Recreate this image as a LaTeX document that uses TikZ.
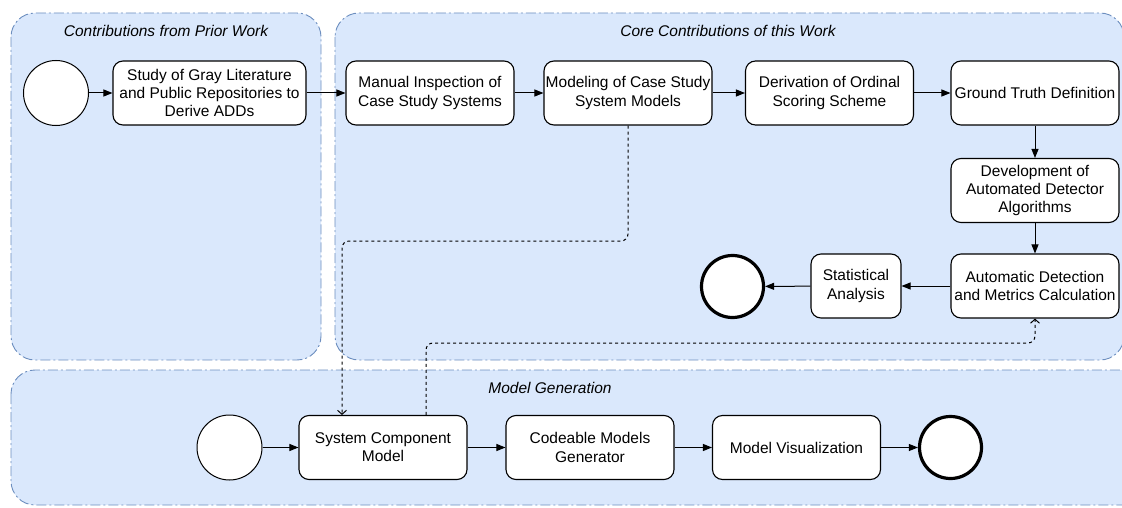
\documentclass[tikz,border=0pt]{standalone}
\usepackage{fontspec}
\setmainfont{Liberation Sans}
\usetikzlibrary{arrows.meta}
\definecolor{grpfill}{HTML}{DAE8FC}
\definecolor{grpline}{HTML}{6C8EBF}
\tikzset{
  grp/.style={draw=grpline, fill=grpfill, line width=0.9pt,
    dash pattern=on 10pt off 3pt on 2pt off 3pt, rounded corners=24pt},
  grptitle/.style={font=\fontsize{15.5}{18}\selectfont\itshape, inner sep=0pt},
  task/.style={draw=black, fill=white, line width=1.1pt, rounded corners=10pt,
    minimum width=168pt, minimum height=64pt, align=center, inner sep=0pt,
    font=\fontsize{15.5}{18.2}\selectfont},
  startev/.style={circle, draw=black, fill=white, line width=1pt,
    minimum size=65pt, inner sep=0pt},
  endev/.style={circle, draw=black, fill=white, line width=3.2pt,
    minimum size=62pt, inner sep=0pt},
  flow/.style={-{Triangle[length=9pt,width=7pt]}, line width=1pt},
  assoc/.style={-{Straight Barb[length=4pt,width=9pt]}, line width=1pt,
    dash pattern=on 3pt off 3pt, rounded corners=7pt},
}
\begin{document}
\begin{tikzpicture}[x=1pt, y=-1pt]
  \useasboundingbox (0,0) rectangle (1122,508);
  \clip (0,0) rectangle (1122,508);

  % lanes
  \draw[grp] (11,13) rectangle (321,360);
  \draw[grp] (335,13) rectangle (1124,360);
  \draw[grp] (11,370) rectangle (1160,505);
  \node[grptitle] (t1) at (166,31) {Contributions from Prior Work};
  \node[grptitle] (t2) at (728,31) {Core Contributions of this Work};
  \node[grptitle] (t3) at (550,388) {Model Generation};

  % prior work
  \node[startev] (s1) at (56,93) {};
  \node[task, minimum width=193pt] (study) at (209.5,93)
    {Study of Gray Literature\\and Public Repositories to\\Derive ADDs};

  % core contributions
  \node[task] (man) at (430,93) {Manual Inspection of\\Case Study Systems};
  \node[task] (mod) at (628,93) {Modeling of Case Study\\System Models};
  \node[task] (der) at (829.5,93) {Derivation of Ordinal\\Scoring Scheme};
  \node[task] (gt) at (1035,93) {Ground Truth Definition};
  \node[task] (dev) at (1035,190.5) {Development of\\Automated Detector\\Algorithms};
  \node[task] (auto) at (1035,286) {Automatic Detection\\and Metrics Calculation};
  \node[task, minimum width=90pt] (stat) at (856,286) {Statistical\\Analysis};
  \node[endev] (e1) at (732.5,286.5) {};

  % model generation
  \node[startev] (s2) at (229.5,447.5) {};
  \node[task] (sys) at (383,447.5) {System Component\\Model};
  \node[task] (gen) at (590,447.5) {Codeable Models\\Generator};
  \node[task] (vis) at (796.5,447.5) {Model Visualization};
  \node[endev] (e2) at (950.5,447.5) {};

  % sequence flows
  \draw[flow] (s1) -- (study);
  \draw[flow] (study) -- (man);
  \draw[flow] (man) -- (mod);
  \draw[flow] (mod) -- (der);
  \draw[flow] (der) -- (gt);
  \draw[flow] (gt) -- (dev);
  \draw[flow] (dev) -- (auto);
  \draw[flow] (auto) -- (stat);
  \draw[flow] (stat) -- (e1);
  \draw[flow] (s2) -- (sys);
  \draw[flow] (sys) -- (gen);
  \draw[flow] (gen) -- (vis);
  \draw[flow] (vis) -- (e2);

  % associations
  \coordinate (c1) at (342,241);
  \coordinate (c2) at (426,343);
  \draw[assoc] (mod.south) |- (c1) -- ([xshift=-41pt]sys.north);
  \draw[assoc] ([xshift=43pt]sys.north) -- (c2) -| (auto.south);
\end{tikzpicture}
\end{document}
